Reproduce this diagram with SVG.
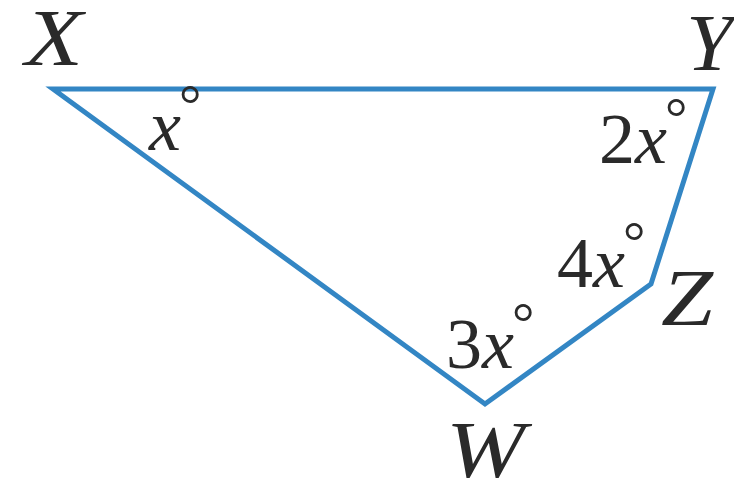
<svg xmlns="http://www.w3.org/2000/svg" width="734" height="489" viewBox="0 0 734 489">
<style>
.edge{fill:none;stroke:#3386c4;stroke-width:5;stroke-linejoin:miter}
.v{font-family:"Liberation Serif",serif;font-style:italic;font-size:80px;fill:#2a2a2a}
.a{font-family:"Liberation Serif",serif;font-size:72px;fill:#2a2a2a}
.i{font-style:italic}
.d{font-size:56px}
</style>
<rect width="734" height="489" fill="#ffffff"/>
<g id="connectors">
<polygon class="edge" points="53,89 713,89 651,284 485,404"/>
</g>
<g id="X"><text class="v" x="25" y="65" textLength="58" lengthAdjust="spacingAndGlyphs">X</text></g>
<g id="Y"><text class="v" x="686" y="70" textLength="47" lengthAdjust="spacingAndGlyphs">Y</text></g>
<g id="Z"><text class="v" x="661" y="325" textLength="52" lengthAdjust="spacingAndGlyphs">Z</text></g>
<g id="W"><text class="v" x="446" y="477" textLength="79" lengthAdjust="spacingAndGlyphs">W</text></g>
<g id="angleX"><text class="a" x="149" y="150"><tspan class="i">x</tspan><tspan class="d" dx="-2" dy="-26">°</tspan></text></g>
<g id="angleY"><text class="a" x="599" y="163">2<tspan class="i">x</tspan><tspan class="d" dx="-2" dy="-26">°</tspan></text></g>
<g id="angleZ"><text class="a" x="557" y="287">4<tspan class="i">x</tspan><tspan class="d" dx="-2" dy="-26">°</tspan></text></g>
<g id="angleW"><text class="a" x="446" y="368">3<tspan class="i">x</tspan><tspan class="d" dx="-2" dy="-26">°</tspan></text></g>
</svg>
